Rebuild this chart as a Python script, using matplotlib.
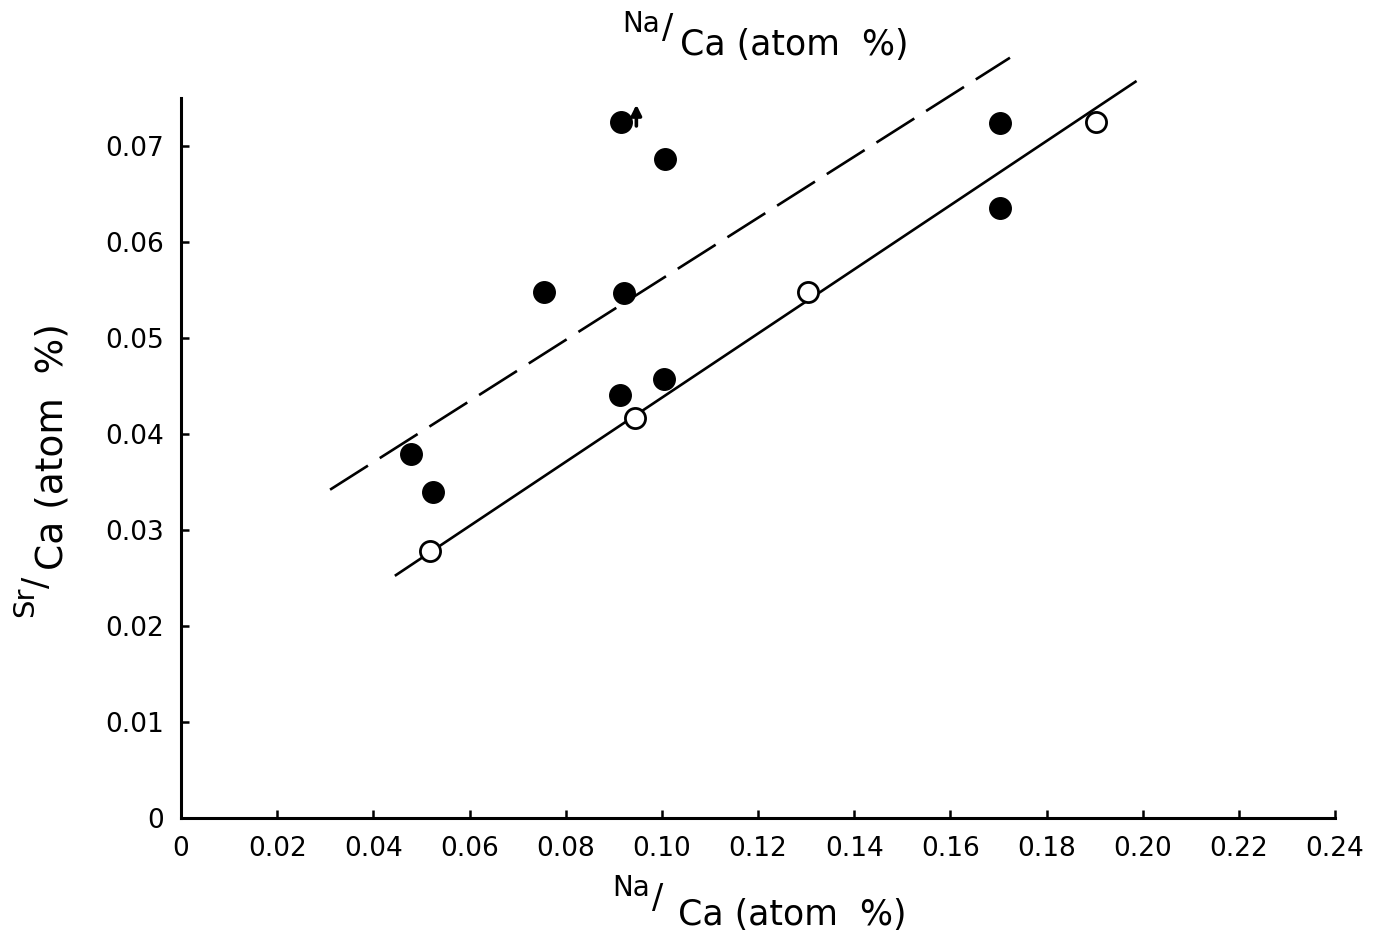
import matplotlib
matplotlib.use('Agg')
import matplotlib.pyplot as plt

# filled circles
filled_x = [0.0478, 0.0524, 0.0755, 0.0915, 0.1006, 0.0921, 0.0913, 0.1004, 0.1703, 0.1703]
filled_y = [0.0379, 0.0340, 0.0548, 0.0725, 0.0686, 0.0547, 0.0441, 0.0457, 0.0724, 0.0635]

# open circles
open_x = [0.0518, 0.0944, 0.1304, 0.1902]
open_y = [0.0278, 0.0417, 0.0548, 0.0725]

# fitted lines (end points)
solid_x = [0.0447, 0.1985]
solid_y = [0.0253, 0.0767]
dash_x = [0.0310, 0.1724]
dash_y = [0.0342, 0.0792]

xticks = [0, 0.02, 0.04, 0.06, 0.08, 0.10, 0.12, 0.14, 0.16, 0.18, 0.20, 0.22, 0.24]
xtick_labels = ['0', '0.02', '0.04', '0.06', '0.08', '0.10', '0.12', '0.14',
                '0.16', '0.18', '0.20', '0.22', '0.24']
yticks = [0, 0.01, 0.02, 0.03, 0.04, 0.05, 0.06, 0.07]
ytick_labels = ['0', '0.01', '0.02', '0.03', '0.04', '0.05', '0.06', '0.07']

plt.rcParams['font.family'] = ['DejaVu Sans']

W, H = 1385, 931
fig = plt.figure(figsize=(W / 100, H / 100), dpi=100)
ax = fig.add_axes([0.1307, 0.1214, 0.8332, 0.7733])

ax.plot(solid_x, solid_y, color='black', lw=1.9, clip_on=False)
ax.plot(dash_x, dash_y, color='black', lw=1.9, dashes=(17, 5.3), clip_on=False)
ax.plot(filled_x, filled_y, 'o', color='black', ms=15.5, clip_on=False, zorder=3)
ax.plot(open_x, open_y, 'o', mfc='white', mec='black', mew=2, ms=14.5,
        clip_on=False, zorder=3)

# upward arrow next to the top point
ax.annotate('', xy=(0.0947, 0.0746), xytext=(0.0947, 0.0718),
            arrowprops=dict(arrowstyle='-|>', color='black', lw=2.6,
                            mutation_scale=15))

ax.set_xlim(0, 0.24)
ax.set_ylim(0, 0.075)
ax.spines['top'].set_visible(False)
ax.spines['right'].set_visible(False)
ax.spines['left'].set_linewidth(2.2)
ax.spines['bottom'].set_linewidth(2.2)

ax.set_xticks(xticks)
ax.set_xticklabels(xtick_labels)
ax.set_yticks(yticks)
ax.set_yticklabels(ytick_labels)
ax.tick_params(direction='in', length=6, width=1.8, labelsize=19)
ax.tick_params(axis='x', pad=13)
ax.tick_params(axis='y', pad=12)


def ptext(x, y, s, size, **kw):
    # place text by pixel position (baseline-left anchor)
    fig.text(x / W, 1 - y / H, s, fontsize=size, ha='left', va='baseline',
             rotation_mode='anchor', **kw)


# bottom axis label  Na/Ca (atom %)
ptext(612, 896, 'Na', 20)
ptext(652, 908, '/', 24)
ptext(678, 925, 'Ca (atom  %)', 25)

# top label
ptext(622, 32, 'Na', 20)
ptext(662, 38, '/', 24)
ptext(680, 55, 'Ca (atom  %)', 25)

# y axis label  Sr/Ca (atom %)
ptext(33, 617, 'Sr', 21, rotation=90)
ptext(47, 588, '/', 24, rotation=90)
ptext(62, 570, 'Ca (atom  %)', 27, rotation=90)

fig.savefig('out.png', dpi=100)
